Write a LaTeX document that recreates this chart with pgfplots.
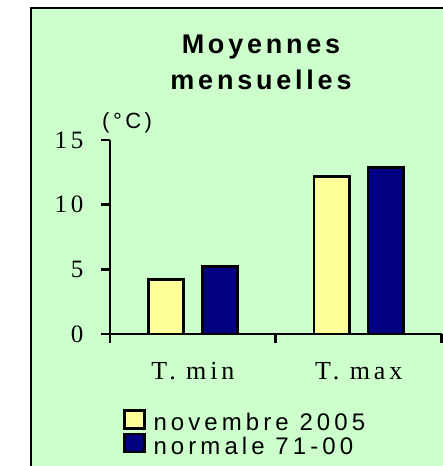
\documentclass[border=0pt]{standalone}
\usepackage{fontspec}
\setmainfont{Liberation Serif}
\setsansfont{Liberation Sans}
\newfontfamily\titlefont[LetterSpace=14]{Liberation Sans}
\newfontfamily\legfont[LetterSpace=17]{Liberation Sans}
\newfontfamily\tickfont[LetterSpace=15]{Liberation Serif}
\newfontfamily\unitfont[LetterSpace=16]{Liberation Sans}
\usepackage{pgfplots}
\pgfplotsset{compat=1.18}
\definecolor{bggreen}{HTML}{CCFFCC}
\definecolor{barY}{HTML}{FFFF99}
\definecolor{barN}{HTML}{000080}
\pgfplotsset{legimg/.style={legend image code/.code={\draw[##1,line width=2.4pt] (0pt,-3pt) rectangle (20pt,15pt);}}}
\begin{document}
\begin{tikzpicture}[x=1pt,y=1pt]
\useasboundingbox (0,0) rectangle (443,466);
\fill[white] (0,0) rectangle (443,466);
\fill[bggreen] (31,0) rectangle (443,458);
\draw[line width=2.6pt] (31,0) -- (31,458) -- (443,458);
\node[anchor=base, inner sep=0pt, font=\titlefont\bfseries\fontsize{27}{30}\selectfont] at (261,412.7) {Moyennes};
\node[anchor=base, inner sep=0pt, font=\titlefont\bfseries\fontsize{27}{30}\selectfont] at (261,376.7) {mensuelles};
\node[anchor=base west, inner sep=0pt, font=\unitfont\fontsize{22}{25}\selectfont] at (102,337.4) {(°C)};
\begin{axis}[
  at={(110pt,132pt)}, anchor=south west,
  scale only axis, width=331.7pt, height=194pt,
  xmin=-0.5, xmax=1.5, ymin=0, ymax=15,
  axis x line=bottom, axis y line=left,
  axis line style={-, line width=2.8pt, black},
  tick align=outside,
  major tick length=9pt,
  tick style={line width=2.8pt, black},
  ytick={0,5,10,15},
  yticklabel style={font=\tickfont\fontsize{25}{30}\selectfont, xshift=-14pt, /pgf/number format/assume math mode=true},
  xtick={-0.5,0.5,1.5}, xticklabels={T. min, T. max},
  x tick label as interval,
  xticklabel style={font=\tickfont\fontsize{26}{30}\selectfont, yshift=-16pt},
  ybar=18.5pt, bar width=35.5pt,
  legend style={at={(axis description cs:0.039,-0.387)}, anchor=north west, draw=none, fill=none,
    font=\legfont\fontsize{24}{24}\selectfont, inner sep=0pt,
    nodes={inner sep=0pt, text height=16pt, text depth=5pt},
    row sep=-3pt, /tikz/every odd column/.append style={column sep=8pt}},
  legend cell align=left,
]
\addplot[ybar, fill=barY, draw=black, line width=2.8pt, legimg] coordinates {(0,4.2) (1,12.2)};
\addlegendentry{novembre 2005}
\addplot[ybar, fill=barN, draw=black, line width=2.8pt, legimg] coordinates {(0,5.2) (1,12.9)};
\addlegendentry{normale 71-00}
\end{axis}
\end{tikzpicture}
\end{document}
